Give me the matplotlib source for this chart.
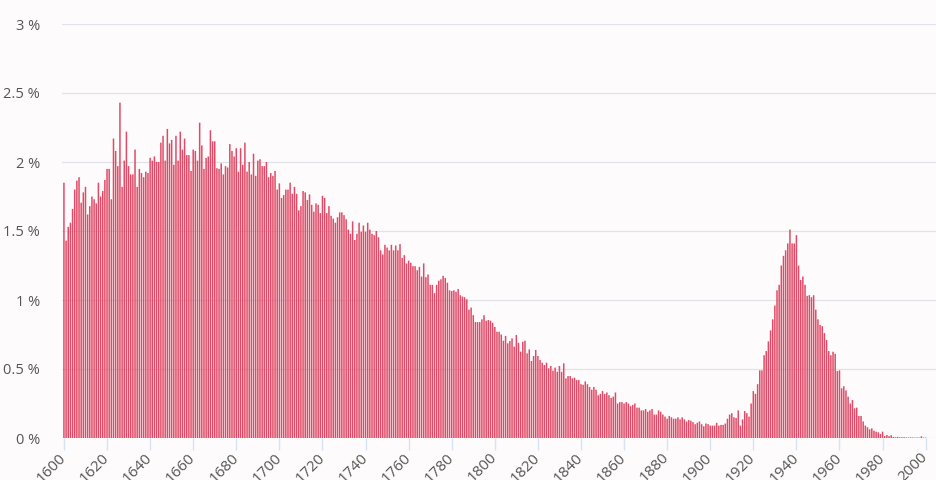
import matplotlib
matplotlib.use("Agg")
import matplotlib.pyplot as plt
import numpy as np

# yearly share (%), one value per year, split by century
share_1600s = [
    1.85, 1.43, 1.53, 1.56, 1.66, 1.80, 1.865, 1.89, 1.705, 1.78,
    1.82, 1.62, 1.68, 1.75, 1.73, 1.70, 1.85, 1.75, 1.79, 1.87,
    1.95, 1.95, 1.73, 2.17, 2.08, 1.97, 2.43, 1.82, 2.01, 2.22,
    1.97, 1.91, 1.91, 2.09, 1.82, 1.95, 1.92, 1.89, 1.93, 1.92,
    2.03, 2.01, 2.04, 2.00, 2.00, 2.14, 2.19, 2.01, 2.24, 2.135,
    2.16, 1.98, 2.19, 2.01, 2.22, 2.09, 2.17, 2.05, 2.05, 1.935,
    2.09, 2.08, 2.01, 2.285, 2.12, 1.95, 2.03, 2.04, 2.23, 2.15,
    2.15, 1.955, 1.95, 1.99, 1.91, 1.97, 1.96, 2.13, 2.08, 2.04,
    2.10, 1.93, 2.10, 1.98, 2.14, 1.93, 2.00, 1.91, 2.06, 1.90,
    2.01, 2.02, 1.97, 1.97, 2.00, 1.89, 1.92, 1.90, 1.935, 1.80,
]
share_1700s = [
    1.845, 1.74, 1.76, 1.80, 1.80, 1.85, 1.77, 1.82, 1.77, 1.65,
    1.68, 1.79, 1.78, 1.725, 1.765, 1.69, 1.64, 1.70, 1.69, 1.63,
    1.755, 1.74, 1.63, 1.68, 1.61, 1.59, 1.56, 1.60, 1.635, 1.635,
    1.615, 1.585, 1.51, 1.48, 1.57, 1.435, 1.48, 1.56, 1.495, 1.54,
    1.495, 1.56, 1.51, 1.48, 1.47, 1.50, 1.455, 1.36, 1.33, 1.40,
    1.38, 1.36, 1.40, 1.36, 1.395, 1.36, 1.405, 1.305, 1.325, 1.265,
    1.285, 1.27, 1.245, 1.245, 1.215, 1.24, 1.17, 1.265, 1.165, 1.185,
    1.11, 1.11, 1.05, 1.11, 1.14, 1.15, 1.175, 1.16, 1.125, 1.07,
    1.065, 1.07, 1.06, 1.08, 1.035, 1.025, 1.02, 1.005, 0.93, 0.945,
    0.89, 0.84, 0.84, 0.84, 0.86, 0.89, 0.85, 0.855, 0.85, 0.835,
]
share_1800s = [
    0.805, 0.77, 0.77, 0.75, 0.705, 0.74, 0.686, 0.703, 0.722, 0.662,
    0.746, 0.69, 0.626, 0.698, 0.705, 0.613, 0.642, 0.558, 0.594, 0.638,
    0.594, 0.565, 0.546, 0.529, 0.546, 0.505, 0.522, 0.488, 0.51, 0.48,
    0.522, 0.48, 0.541, 0.432, 0.449, 0.449, 0.432, 0.437, 0.42, 0.42,
    0.39, 0.385, 0.41, 0.39, 0.37, 0.35, 0.37, 0.35, 0.31, 0.32,
    0.34, 0.32, 0.33, 0.31, 0.29, 0.30, 0.33, 0.25, 0.26, 0.26,
    0.25, 0.26, 0.25, 0.23, 0.24, 0.25, 0.22, 0.22, 0.20, 0.20,
    0.21, 0.19, 0.20, 0.21, 0.17, 0.17, 0.20, 0.19, 0.17, 0.155,
    0.14, 0.16, 0.15, 0.14, 0.14, 0.15, 0.135, 0.15, 0.135, 0.12,
    0.13, 0.125, 0.115, 0.10, 0.11, 0.12, 0.10, 0.085, 0.105, 0.10,
]
share_1900s = [
    0.09, 0.09, 0.09, 0.11, 0.09, 0.095, 0.095, 0.105, 0.14, 0.17,
    0.18, 0.15, 0.145, 0.20, 0.09, 0.135, 0.195, 0.18, 0.155, 0.25,
    0.34, 0.32, 0.39, 0.49, 0.49, 0.60, 0.63, 0.70, 0.78, 0.86,
    0.96, 1.07, 1.11, 1.25, 1.32, 1.36, 1.41, 1.51, 1.41, 1.41,
    1.47, 1.25, 1.145, 1.17, 1.11, 1.03, 1.035, 1.02, 1.035, 0.93,
    0.86, 0.82, 0.81, 0.76, 0.71, 0.63, 0.60, 0.625, 0.61, 0.485,
    0.49, 0.36, 0.375, 0.345, 0.30, 0.25, 0.275, 0.215, 0.22, 0.16,
    0.16, 0.12, 0.09, 0.078, 0.063, 0.07, 0.053, 0.046, 0.041, 0.029,
    0.046, 0.014, 0.022, 0.014, 0.02, 0.008, 0.006, 0.008, 0.005, 0.005,
    0.006, 0.004, 0.004, 0.005, 0.004, 0.003, 0.004, 0.003, 0.012, 0.003,
    0.003,
]

years = np.arange(1600, 2001)
share = np.array(share_1600s + share_1700s + share_1800s + share_1900s)
x_ticks = list(range(1600, 2001, 20))
y_ticks = [0, 0.5, 1, 1.5, 2, 2.5, 3]

BAR = "#e04a66"
LABEL = "#555555"

plt.rcParams["font.family"] = ["Open Sans", "DejaVu Sans"]

fig = plt.figure(figsize=(9.36, 4.8), dpi=100, facecolor="#fefbfc")
ax = fig.add_axes([62 / 936, 42 / 480, 874 / 936, 414 / 480])
ax.set_facecolor("#fefbfc")

# no pixel snapping, so the thin bars blend softly instead of 1px/2px stripes
ax.bar(years, share, width=0.7, color=BAR, linewidth=0, zorder=2, snap=False)

ax.set_xlim(1599.1, 2004.8)
ax.set_ylim(0, 3)

ax.set_yticks(y_ticks)
ax.set_yticklabels([f"{v:g} %" for v in y_ticks])
ax.yaxis.grid(True, color="#e2e2ea", linewidth=0.9, zorder=0)
ax.tick_params(axis="y", length=0, pad=16, labelsize=10.5, labelcolor=LABEL)

# year ticks: short light-blue marks, labels tilted up to the right
ax.set_xticks(x_ticks)
ax.tick_params(axis="x", length=8.6, width=1, color="#d4e4f4", pad=4,
               labelsize=11, labelcolor=LABEL)
plt.setp(ax.get_xticklabels(), rotation=45, ha="right", va="center",
         rotation_mode="anchor")

for side in ("top", "right", "left", "bottom"):
    ax.spines[side].set_visible(False)

fig.savefig("out.png", dpi=100, facecolor=fig.get_facecolor())
plt.close(fig)
